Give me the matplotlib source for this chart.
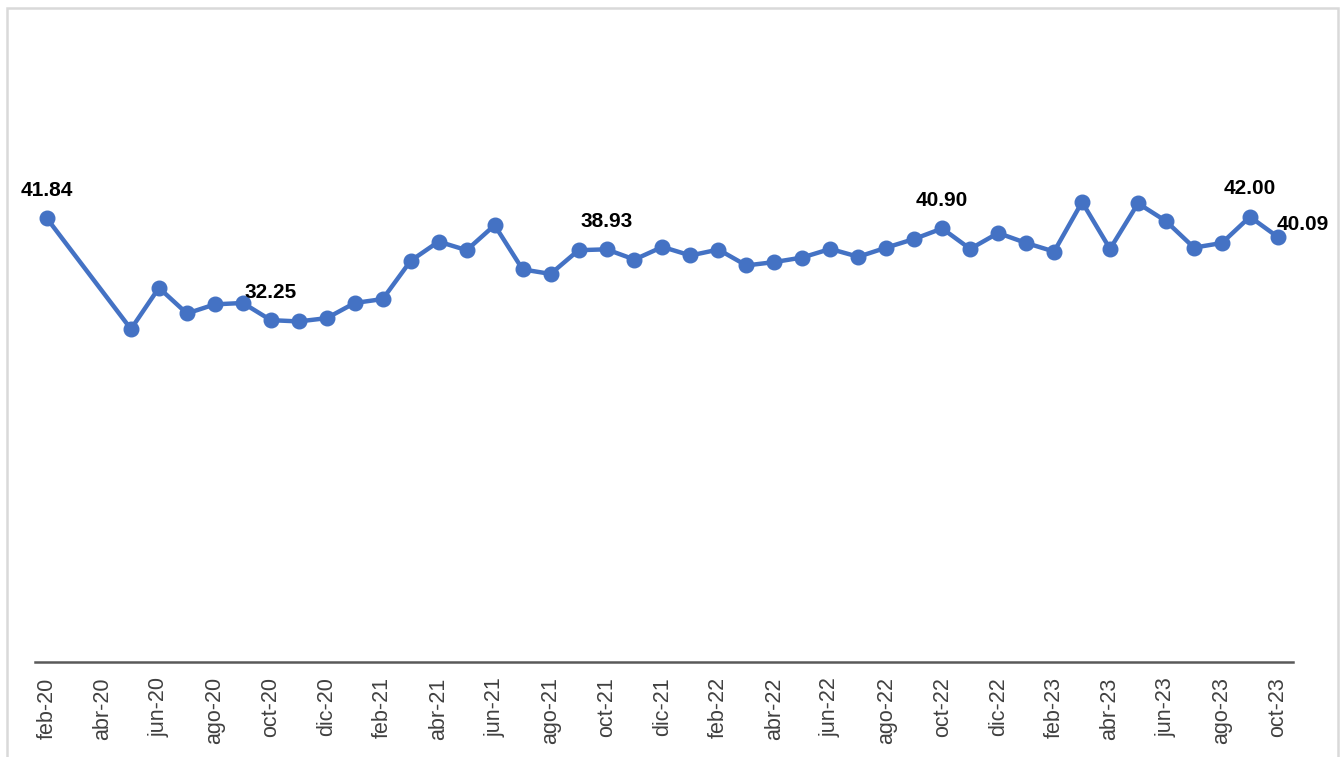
import matplotlib.pyplot as plt
import matplotlib.patches as patches

plt.rcParams["font.family"] = ["Liberation Sans", "DejaVu Sans"]

# monthly series (mar-20 and abr-20 are missing in the source)
months = ["2020-02", "2020-05", "2020-06", "2020-07", "2020-08", "2020-09",
          "2020-10", "2020-11", "2020-12", "2021-01", "2021-02", "2021-03",
          "2021-04", "2021-05", "2021-06", "2021-07", "2021-08", "2021-09",
          "2021-10", "2021-11", "2021-12", "2022-01", "2022-02", "2022-03",
          "2022-04", "2022-05", "2022-06", "2022-07", "2022-08", "2022-09",
          "2022-10", "2022-11", "2022-12", "2023-01", "2023-02", "2023-03",
          "2023-04", "2023-05", "2023-06", "2023-07", "2023-08", "2023-09",
          "2023-10"]
values = [41.84, 31.41, 35.30, 32.88, 33.74, 33.87,
          32.25, 32.13, 32.44, 33.87, 34.24, 37.85,
          39.66, 38.85, 41.21, 37.04, 36.61, 38.85,
          38.93, 37.97, 39.16, 38.35, 38.91, 37.41,
          37.73, 38.16, 38.97, 38.23, 39.09, 39.91,
          40.90, 38.97, 40.47, 39.53, 38.72, 43.39,
          38.97, 43.27, 41.59, 39.09, 39.53, 42.00,
          40.09]
labelled = ["2020-02", "2020-10", "2021-10", "2022-10", "2023-09", "2023-10"]
mes = ["ene", "feb", "mar", "abr", "may", "jun",
       "jul", "ago", "sep", "oct", "nov", "dic"]


def month_pos(m):
    y, mo = int(m[:4]), int(m[5:])
    return (y - 2020) * 12 + mo - 2


x = [month_pos(m) for m in months]

fig = plt.figure(figsize=(13.4, 7.57), dpi=100)
ax = fig.add_axes([35 / 1340, 1 - 662 / 757, 1258 / 1340, 636 / 757])

blue = "#4472C4"
ax.plot(x, values, color=blue, lw=3.2, marker="o", ms=10.5,
        markeredgecolor=blue, solid_joinstyle="round")

for m in labelled:
    i = months.index(m)
    if m == "2023-10":
        off = (25, 13)
    else:
        off = (0, 28)
    ax.annotate("{:.2f}".format(values[i]), xy=(x[i], values[i]),
                xytext=off, textcoords="offset pixels", ha="center", va="center",
                fontsize=15, fontweight="bold", color="black")

ticks = list(range(0, 45, 2))
ax.set_xticks(ticks)
ax.set_xticklabels([mes[(t + 1) % 12] + "-" + str(20 + (t + 1) // 12) for t in ticks],
                   rotation=90, fontsize=15.5, color="#404040")
ax.tick_params(axis="x", length=0, pad=11)
ax.set_xlim(-0.43, 44.54)
ax.set_ylim(0, 60)
ax.set_yticks([])
for s in ["top", "right", "left"]:
    ax.spines[s].set_visible(False)
ax.spines["bottom"].set_color("#595959")
ax.spines["bottom"].set_linewidth(1.8)

border = patches.Rectangle((7 / 1340, -0.05), 1331 / 1340, 1 - 8 / 757 + 0.05,
                           transform=fig.transFigure, fill=False,
                           edgecolor="#d9d9d9", lw=1.8, clip_on=False)
fig.patches.append(border)

fig.savefig("out.png", dpi=100)
